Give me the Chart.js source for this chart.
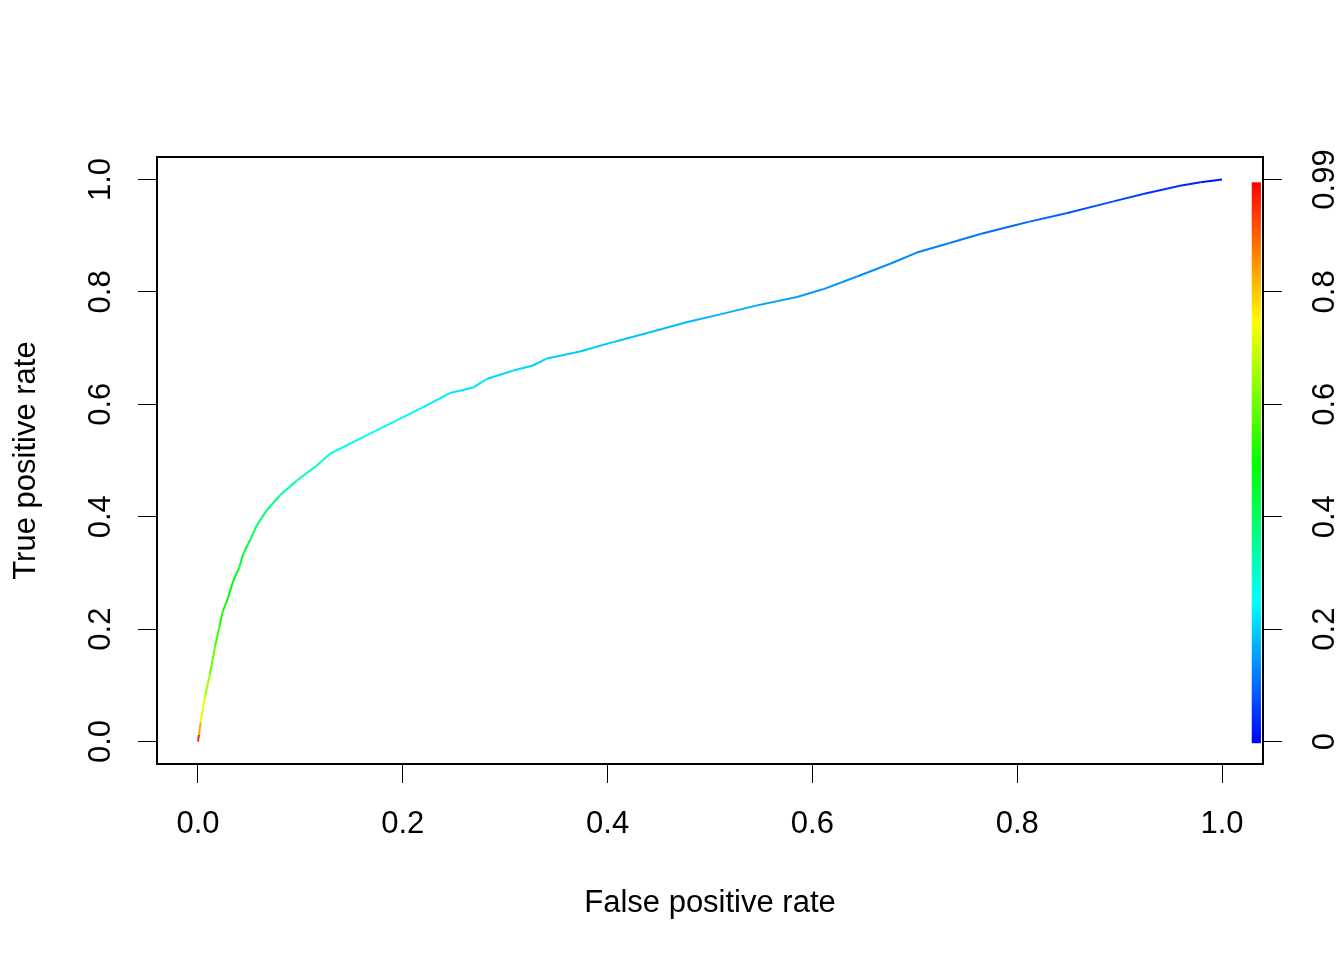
<!DOCTYPE html>
<html>
<head>
<meta charset="utf-8">
<title>ROC curve</title>
<script src="https://cdn.jsdelivr.net/npm/chart.js@4.4.0/dist/chart.umd.min.js"></script>
<style>
  html, body { margin: 0; padding: 0; background: #fff; }
  #wrap { width: 1344px; height: 960px; position: relative; }
</style>
</head>
<body>
<div id="wrap"><canvas id="rocChart"></canvas></div>
<script>
// ROC curve: false positive rate, true positive rate, cutoff at each point
const fpr = [0, 0.0010, 0.0026, 0.0068, 0.0117, 0.0166, 0.0208, 0.0240, 0.0296, 0.0345,
             0.0404, 0.0443, 0.0508, 0.0573, 0.0670, 0.0800, 0.0964, 0.1160, 0.1290, 0.1650,
             0.1970, 0.2200, 0.2460, 0.2690, 0.2820, 0.3080, 0.3270, 0.3400, 0.3730, 0.4060,
             0.4450, 0.4770, 0.5100, 0.5460, 0.5850, 0.6110, 0.6430, 0.6760, 0.7020, 0.7340,
             0.7640, 0.7900, 0.8120, 0.8480, 0.8940, 0.9230, 0.9590, 0.9790, 1.0];
const tpr = [0, 0.012, 0.034, 0.079, 0.120, 0.168, 0.203, 0.230, 0.257, 0.286,
             0.310, 0.334, 0.358, 0.384, 0.411, 0.438, 0.464, 0.491, 0.512, 0.545,
             0.574, 0.595, 0.620, 0.630, 0.645, 0.660, 0.669, 0.681, 0.694, 0.711,
             0.730, 0.746, 0.760, 0.776, 0.791, 0.805, 0.827, 0.850, 0.870, 0.887,
             0.903, 0.915, 0.925, 0.940, 0.961, 0.974, 0.989, 0.995, 1.0];
const cutoff = [0.99, 0.90, 0.76, 0.68, 0.62, 0.57, 0.54, 0.51, 0.50, 0.48,
                0.46, 0.44, 0.42, 0.40, 0.38, 0.35, 0.32, 0.30, 0.28, 0.26,
                0.245, 0.235, 0.225, 0.22, 0.215, 0.21, 0.205, 0.20, 0.197, 0.193,
                0.188, 0.18, 0.17, 0.163, 0.155, 0.148, 0.142, 0.136, 0.13, 0.122,
                0.114, 0.106, 0.10, 0.088, 0.07, 0.058, 0.04, 0.028, 0.012];

const axisTicks = [0, 0.2, 0.4, 0.6, 0.8, 1.0];
const cutoffLabels = ['0', '0.2', '0.4', '0.6', '0.8', '0.99'];
const xTitle = 'False positive rate';
const yTitle = 'True positive rate';

const cutoffMax = 0.99;
const FONT = '"Liberation Sans", Arial, sans-serif';

// rainbow: blue at cutoff 0, red at the top cutoff
function cutoffColor(c) {
  const hue = 240 * (1 - c / cutoffMax);
  return 'hsl(' + hue.toFixed(1) + ', 100%, 50%)';
}

function drawUp(ctx, text, x, y) {
  ctx.save();
  ctx.translate(x, y);
  ctx.rotate(-Math.PI / 2);
  ctx.fillText(text, 0, 0);
  ctx.restore();
}

const rocDecor = {
  id: 'rocDecor',
  afterDatasetsDraw(chart) {
    const ctx = chart.ctx;
    const a = chart.chartArea;
    const xs = chart.scales.x;
    const ys = chart.scales.y;
    ctx.save();

    // colour key for the cutoffs
    const bx0 = xs.getPixelForValue(1.029);
    const bx1 = xs.getPixelForValue(1.038);
    const byBottom = ys.getPixelForValue(-0.003);
    const byTop = ys.getPixelForValue(0.995);
    const g = ctx.createLinearGradient(0, byBottom, 0, byTop);
    for (let i = 0; i <= 24; i++) {
      g.addColorStop(i / 24, cutoffColor(cutoffMax * i / 24));
    }
    ctx.fillStyle = g;
    ctx.fillRect(bx0, byTop, bx1 - bx0, byBottom - byTop);

    // plot box
    ctx.strokeStyle = '#000';
    ctx.lineWidth = 2;
    ctx.strokeRect(a.left, a.top, a.right - a.left, a.bottom - a.top);

    // y tick labels, written upwards like R does
    ctx.fillStyle = '#000';
    ctx.font = '31px ' + FONT;
    ctx.textAlign = 'center';
    ctx.textBaseline = 'alphabetic';
    axisTicks.forEach(function (v, i) {
      const py = ys.getPixelForValue(v);
      drawUp(ctx, v.toFixed(1), a.left - 47.5, py);
      drawUp(ctx, cutoffLabels[i], a.right + 70.5, py);
    });

    // axis titles
    drawUp(ctx, yTitle, a.left - 122, (a.top + a.bottom) / 2);
    ctx.fillText(xTitle, (a.left + a.right) / 2, a.bottom + 148);
    ctx.restore();
  }
};

const tickGrid = {
  drawOnChartArea: false,
  drawTicks: true,
  tickLength: 19,
  tickColor: '#000',
  tickWidth: 1
};

const ctx = document.getElementById('rocChart').getContext('2d');
const rocChart = new Chart(ctx, {
  type: 'scatter',
  data: {
    datasets: [{
      label: 'ROC',
      data: fpr.map(function (x, i) { return { x: x, y: tpr[i] }; }),
      showLine: true,
      pointRadius: 0,
      borderWidth: 2,
      borderJoinStyle: 'round',
      borderColor: cutoffColor(0.2),
      segment: {
        borderColor: function (s) {
          return cutoffColor((cutoff[s.p0DataIndex] + cutoff[s.p1DataIndex]) / 2);
        }
      }
    }]
  },
  options: {
    responsive: true,
    maintainAspectRatio: false,
    animation: false,
    layout: { padding: { top: 157, left: 0, right: 0, bottom: 0 } },
    plugins: {
      legend: { display: false },
      tooltip: { enabled: false }
    },
    scales: {
      x: {
        type: 'linear',
        min: -0.04,
        max: 1.04,
        afterBuildTicks: function (s) { s.ticks = axisTicks.map(function (v) { return { value: v }; }); },
        afterFit: function (s) { s.height = 196; },
        grid: tickGrid,
        border: { display: true, color: '#000', width: 2 },
        ticks: {
          color: '#000',
          font: { family: FONT, size: 31 },
          padding: 23,
          maxRotation: 0,
          autoSkip: false,
          callback: function (v) { return Number(v).toFixed(1); }
        }
      },
      y: {
        type: 'linear',
        position: 'left',
        min: -0.04,
        max: 1.04,
        afterBuildTicks: function (s) { s.ticks = axisTicks.map(function (v) { return { value: v }; }); },
        afterFit: function (s) { s.width = 157; },
        grid: tickGrid,
        border: { display: true, color: '#000', width: 2 },
        ticks: { display: false }
      },
      y2: {
        type: 'linear',
        position: 'right',
        min: -0.04,
        max: 1.04,
        afterBuildTicks: function (s) { s.ticks = axisTicks.map(function (v) { return { value: v }; }); },
        afterFit: function (s) { s.width = 81; },
        grid: tickGrid,
        border: { display: true, color: '#000', width: 2 },
        ticks: { display: false }
      }
    }
  },
  plugins: [rocDecor]
});
</script>
</body>
</html>
